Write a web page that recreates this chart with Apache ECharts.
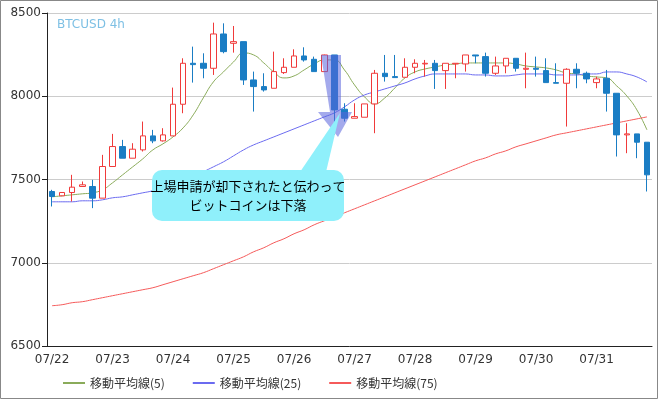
<!DOCTYPE html>
<html><head><meta charset="utf-8">
<script src="https://cdn.jsdelivr.net/npm/echarts@6/dist/echarts.min.js"></script>
<style>html,body{margin:0;padding:0;background:#fff}#c{width:659px;height:400px}</style>
</head><body><div id="c"></div>
<script>
const dayLabels = ['07/22','07/23','07/24','07/25','07/26','07/27','07/28','07/29','07/30','07/31'];
// [open, close, low, high]
const candles = [
[7428,7398,7338,7438],[7402,7422,7400,7424],[7422,7454,7368,7528],[7458,7468,7458,7488],[7458,7388,7328,7498],
[7388,7578,7388,7648],[7578,7698,7578,7774],[7698,7628,7628,7738],[7628,7682,7628,7718],[7678,7762,7668,7848],
[7762,7732,7718,7798],[7732,7768,7728,7808],[7762,7952,7762,8052],[7952,8198,7898,8228],[8198,8190,8082,8298],
[8198,8168,8108,8258],[8168,8374,8128,8442],[8374,8268,8258,8438],[8318,8328,8262,8422],[8328,8098,8068,8328],
[8098,8058,7908,8148],[8058,8038,8028,8138],[8048,8148,8048,8268],[8142,8174,8134,8228],[8174,8242,8174,8282],
[8242,8218,8208,8294],[8222,8148,8148,8238],[8148,8248,8148,8250],[8248,7918,7768,8248],[7922,7868,7848,7958],
[7868,7878,7868,7958],[7874,7954,7874,7954],[7954,8138,7778,8158],[8138,8118,8088,8248],[8118,8112,8112,8248],
[8114,8174,8114,8228],[8174,8198,8138,8222],[8194,8198,8118,8218],[8198,8154,8044,8218],[8154,8198,8044,8198],
[8194,8198,8108,8198],[8194,8248,8148,8248],[8248,8242,8198,8248],[8238,8138,8118,8262],[8138,8182,8128,8238],
[8182,8228,8138,8228],[8228,8168,8148,8228],[8162,8168,8048,8262],[8168,8162,8118,8238],[8154,8082,8082,8228],
[8082,8078,8078,8198],[8078,8162,7818,8168],[8162,8138,8048,8198],[8138,8104,8078,8148],[8082,8104,8048,8118],
[8108,8018,7908,8158],[8018,7768,7638,8018],[7768,7774,7658,7838],[7774,7724,7628,7774],[7724,7528,7428,7724]];
const ma5 = [7396,7402,7408,7414,7420,7438,7480,7528,7576,7624,7678,7714,7756,7810,7888,7990,8086,8146,8206,8260,
8248,8200,8146,8110,8122,8158,8194,8218,8218,8158,8068,7996,7954,7990,8050,8110,8146,8164,8176,8188,
8194,8200,8200,8200,8200,8200,8194,8182,8176,8170,8158,8140,8134,8122,8116,8110,8062,8002,7918,7798];
const ma25 = [7366,7366,7366,7372,7372,7378,7390,7396,7408,7420,7432,7450,7468,7492,7516,7546,7576,7606,7642,7678,
7708,7732,7756,7780,7804,7828,7852,7876,7900,7936,7978,8008,8026,8044,8062,8080,8104,8122,8134,8134,
8134,8134,8128,8128,8122,8122,8128,8134,8134,8134,8128,8128,8128,8134,8134,8146,8146,8134,8116,8086];
const ma75 = [6742,6748,6760,6766,6778,6790,6802,6814,6826,6838,6850,6868,6886,6904,6922,6940,6964,6988,7012,7036,
7066,7090,7120,7144,7174,7198,7228,7252,7276,7300,7324,7348,7372,7396,7420,7444,7468,7492,7516,7540,
7564,7588,7612,7630,7654,7672,7696,7714,7732,7750,7768,7780,7792,7804,7816,7828,7840,7852,7864,7876];
const cats = candles.map((d,i)=> i%6===0 ? dayLabels[i/6] : ('c'+i));
const chart = echarts.init(document.getElementById('c'));
const lineS = (name,data,color)=>({name,type:'line',data,symbol:'none',smooth:true,lineStyle:{width:1,color},itemStyle:{color},z:3});
chart.setOption({
  animation:false,
  grid:{left:47,right:7,top:13,bottom:54},
  graphic:[
    {type:'rect',shape:{x:0.5,y:0.5,width:657,height:398},style:{fill:'none',stroke:'#888',lineWidth:1},z:-1},
    {type:'text',left:57,top:19,style:{text:'BTCUSD 4h',fill:'#7ec0e4',font:'12px "DejaVu Sans"'},z:10},
    {type:'polygon',shape:{points:[[321,55],[341,55],[341,112],[352,112],[338,137],[318,112],[330,112]]},style:{fill:'rgba(90,100,220,0.55)'},z:5},
    {type:'polygon',shape:{points:[[300,172],[340,113],[326,172]]},style:{fill:'#8ff0fb'},z:5},
    {type:'rect',shape:{x:152,y:170,width:192,height:51,r:10},style:{fill:'#8ff0fb'},z:5},
    {type:'text',x:248,y:186,style:{text:'上場申請が却下されたと伝わって',fill:'#000',font:'13px "Noto Sans CJK JP"',align:'center',verticalAlign:'middle'},z:6},
    {type:'text',x:248,y:205,style:{text:'ビットコインは下落',fill:'#000',font:'13px "Noto Sans CJK JP"',align:'center',verticalAlign:'middle'},z:6}
  ],
  legend:{bottom:6,left:58,itemWidth:22,itemHeight:2,icon:'rect',itemGap:28,
    textStyle:{fontSize:12,color:'#333',fontFamily:'Noto Sans CJK JP'},
    data:['移動平均線(5)','移動平均線(25)','移動平均線(75)']},
  xAxis:{type:'category',data:cats,boundaryGap:true,
    axisLine:{lineStyle:{color:'#222'}},
    axisTick:{alignWithLabel:true,interval:(i)=>i%6===0,lineStyle:{color:'#222'}},
    axisLabel:{interval:(i)=>i%6===0,color:'#333',fontSize:12,fontFamily:'DejaVu Sans'},
    splitLine:{show:false}},
  yAxis:{type:'value',min:6500,max:8500,interval:500,
    axisLine:{show:true,lineStyle:{color:'#222'}},axisTick:{show:true,lineStyle:{color:'#222'}},
    axisLabel:{color:'#333',fontSize:12,fontFamily:'DejaVu Sans',margin:6,formatter:(v)=>String(v)},
    splitLine:{lineStyle:{color:'#ccc'}}},
  series:[
    {type:'candlestick',data:candles,barWidth:6,z:4,
     itemStyle:{color:'#ffffff',color0:'#1a7dc4',borderColor:'#f03a3a',borderColor0:'#1a7dc4',borderWidth:1}},
    lineS('移動平均線(5)',ma5,'#8aab5a'),
    lineS('移動平均線(25)',ma25,'#6b6bf0'),
    lineS('移動平均線(75)',ma75,'#f55a5a')
  ]
});
</script></body></html>
